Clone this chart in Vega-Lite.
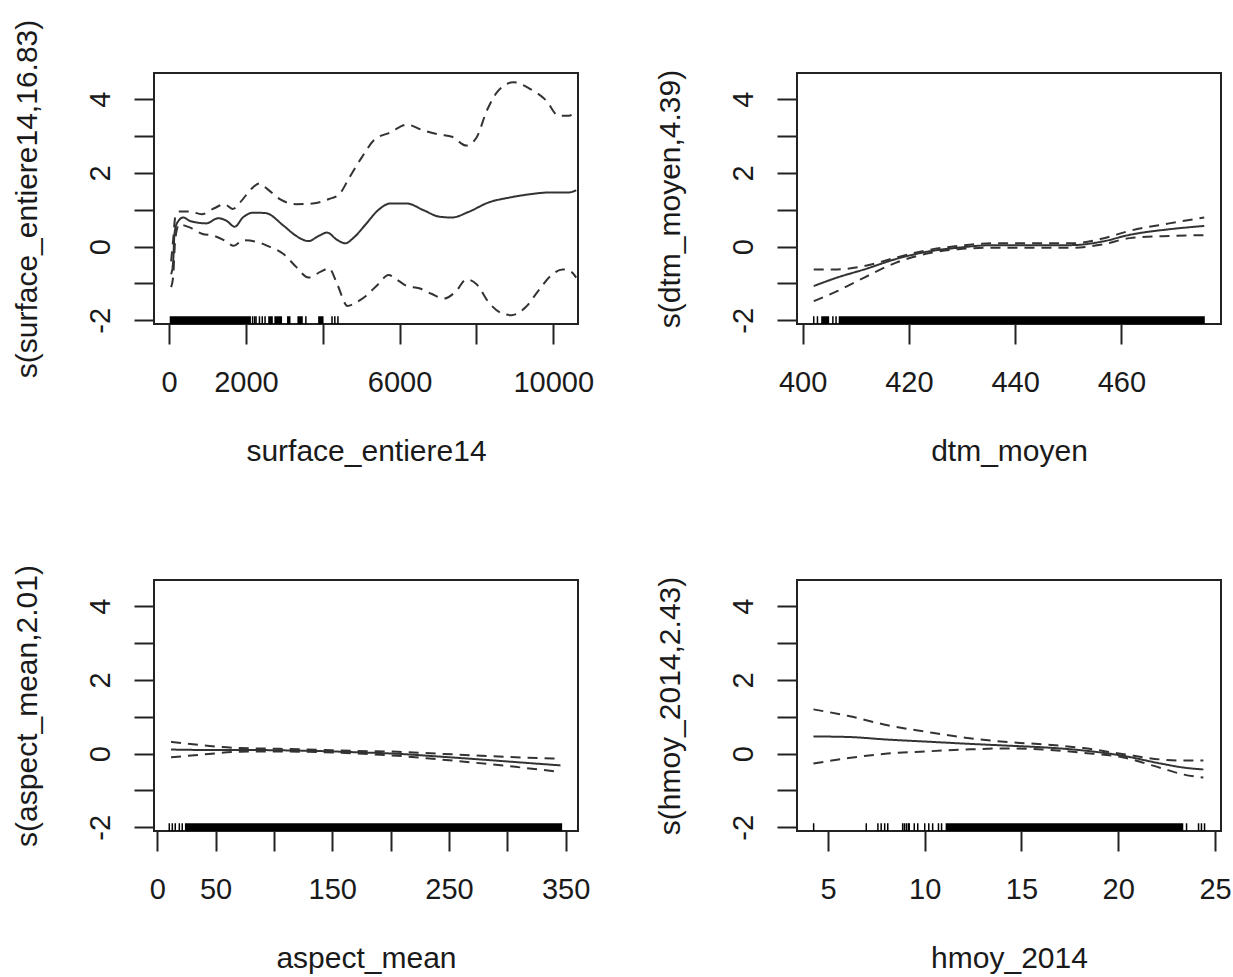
{
  "$schema": "https://vega.github.io/schema/vega-lite/v6.json",
  "background": "white",
  "padding": {"left": 10, "top": 18, "right": 0, "bottom": 0},
  "bounds": "flush",
  "columns": 2,
  "spacing": {"row": 256, "column": 219},
  "datasets": {
    "p1": [
      {"x":53,"y":-0.75,"s":"fit"},{"x":107,"y":-0.39,"s":"fit"},{"x":139,"y":0.34,"s":"fit"},{"x":213,"y":0.65,"s":"fit"},{"x":373,"y":0.79,"s":"fit"},{"x":534,"y":0.70,"s":"fit"},{"x":747,"y":0.65,"s":"fit"},{"x":961,"y":0.63,"s":"fit"},{"x":1281,"y":0.77,"s":"fit"},{"x":1494,"y":0.70,"s":"fit"},{"x":1708,"y":0.54,"s":"fit"},{"x":1921,"y":0.79,"s":"fit"},{"x":2188,"y":0.92,"s":"fit"},{"x":2508,"y":0.91,"s":"fit"},{"x":2988,"y":0.56,"s":"fit"},{"x":3308,"y":0.29,"s":"fit"},{"x":3629,"y":0.15,"s":"fit"},{"x":3895,"y":0.29,"s":"fit"},{"x":4109,"y":0.38,"s":"fit"},{"x":4376,"y":0.18,"s":"fit"},{"x":4589,"y":0.09,"s":"fit"},{"x":4803,"y":0.24,"s":"fit"},{"x":5123,"y":0.61,"s":"fit"},{"x":5443,"y":0.99,"s":"fit"},{"x":5763,"y":1.17,"s":"fit"},{"x":6190,"y":1.17,"s":"fit"},{"x":6617,"y":0.99,"s":"fit"},{"x":7044,"y":0.81,"s":"fit"},{"x":7364,"y":0.79,"s":"fit"},{"x":7791,"y":0.94,"s":"fit"},{"x":8324,"y":1.20,"s":"fit"},{"x":8858,"y":1.33,"s":"fit"},{"x":9392,"y":1.42,"s":"fit"},{"x":9925,"y":1.47,"s":"fit"},{"x":10405,"y":1.47,"s":"fit"},{"x":10598,"y":1.53,"s":"fit"},
      {"x":53,"y":-0.4,"s":"upper"},{"x":107,"y":0.2,"s":"upper"},{"x":160,"y":0.8,"s":"upper"},{"x":260,"y":0.95,"s":"upper"},{"x":534,"y":0.95,"s":"upper"},{"x":854,"y":0.88,"s":"upper"},{"x":1174,"y":1.04,"s":"upper"},{"x":1441,"y":1.15,"s":"upper"},{"x":1654,"y":1.02,"s":"upper"},{"x":1921,"y":1.29,"s":"upper"},{"x":2135,"y":1.56,"s":"upper"},{"x":2348,"y":1.71,"s":"upper"},{"x":2561,"y":1.56,"s":"upper"},{"x":2882,"y":1.29,"s":"upper"},{"x":3308,"y":1.15,"s":"upper"},{"x":3735,"y":1.17,"s":"upper"},{"x":4162,"y":1.29,"s":"upper"},{"x":4429,"y":1.42,"s":"upper"},{"x":4696,"y":1.88,"s":"upper"},{"x":5016,"y":2.42,"s":"upper"},{"x":5336,"y":2.89,"s":"upper"},{"x":5763,"y":3.10,"s":"upper"},{"x":6190,"y":3.31,"s":"upper"},{"x":6617,"y":3.15,"s":"upper"},{"x":7044,"y":3.04,"s":"upper"},{"x":7364,"y":2.98,"s":"upper"},{"x":7737,"y":2.74,"s":"upper"},{"x":8004,"y":2.96,"s":"upper"},{"x":8271,"y":3.69,"s":"upper"},{"x":8538,"y":4.19,"s":"upper"},{"x":8965,"y":4.46,"s":"upper"},{"x":9392,"y":4.28,"s":"upper"},{"x":9819,"y":3.96,"s":"upper"},{"x":10139,"y":3.55,"s":"upper"},{"x":10405,"y":3.55,"s":"upper"},{"x":10598,"y":3.69,"s":"upper"},
      {"x":53,"y":-1.1,"s":"lower"},{"x":107,"y":-0.8,"s":"lower"},{"x":160,"y":0.2,"s":"lower"},{"x":260,"y":0.6,"s":"lower"},{"x":534,"y":0.52,"s":"lower"},{"x":854,"y":0.35,"s":"lower"},{"x":1174,"y":0.29,"s":"lower"},{"x":1441,"y":0.17,"s":"lower"},{"x":1686,"y":0.02,"s":"lower"},{"x":1921,"y":0.17,"s":"lower"},{"x":2241,"y":0.14,"s":"lower"},{"x":2561,"y":0.02,"s":"lower"},{"x":2988,"y":-0.21,"s":"lower"},{"x":3308,"y":-0.55,"s":"lower"},{"x":3629,"y":-0.84,"s":"lower"},{"x":3949,"y":-0.68,"s":"lower"},{"x":4162,"y":-0.59,"s":"lower"},{"x":4376,"y":-1.02,"s":"lower"},{"x":4643,"y":-1.61,"s":"lower"},{"x":4856,"y":-1.52,"s":"lower"},{"x":5123,"y":-1.34,"s":"lower"},{"x":5443,"y":-1.02,"s":"lower"},{"x":5710,"y":-0.77,"s":"lower"},{"x":5976,"y":-0.93,"s":"lower"},{"x":6190,"y":-1.07,"s":"lower"},{"x":6510,"y":-1.13,"s":"lower"},{"x":6830,"y":-1.28,"s":"lower"},{"x":7150,"y":-1.41,"s":"lower"},{"x":7471,"y":-1.21,"s":"lower"},{"x":7737,"y":-0.89,"s":"lower"},{"x":8004,"y":-1.02,"s":"lower"},{"x":8324,"y":-1.52,"s":"lower"},{"x":8644,"y":-1.80,"s":"lower"},{"x":8911,"y":-1.86,"s":"lower"},{"x":9285,"y":-1.64,"s":"lower"},{"x":9605,"y":-1.21,"s":"lower"},{"x":9925,"y":-0.80,"s":"lower"},{"x":10245,"y":-0.62,"s":"lower"},{"x":10459,"y":-0.68,"s":"lower"},{"x":10598,"y":-0.84,"s":"lower"}
    ],
    "p1band": [{"from":16,"to":2130},{"from":2580,"to":2700},{"from":2740,"to":2940},{"from":3070,"to":3160},{"from":3340,"to":3480},{"from":3880,"to":4020}],
    "p1rug": [{"v":2174},{"v":2228},{"v":2263},{"v":2352},{"v":2425},{"v":2498},{"v":3560},{"v":4241},{"v":4314},{"v":4395}],
    "p2": [
      {"x":402.1,"y":-1.07,"s":"fit"},{"x":406.5,"y":-0.84,"s":"fit"},{"x":411.6,"y":-0.62,"s":"fit"},{"x":417.5,"y":-0.34,"s":"fit"},{"x":423.4,"y":-0.14,"s":"fit"},{"x":429.3,"y":-0.03,"s":"fit"},{"x":435.9,"y":0.04,"s":"fit"},{"x":443.2,"y":0.04,"s":"fit"},{"x":450.6,"y":0.04,"s":"fit"},{"x":456.5,"y":0.14,"s":"fit"},{"x":461.6,"y":0.32,"s":"fit"},{"x":469.0,"y":0.47,"s":"fit"},{"x":475.6,"y":0.56,"s":"fit"},
      {"x":402.1,"y":-0.62,"s":"upper"},{"x":406.5,"y":-0.62,"s":"upper"},{"x":411.6,"y":-0.53,"s":"upper"},{"x":417.5,"y":-0.30,"s":"upper"},{"x":423.4,"y":-0.10,"s":"upper"},{"x":429.3,"y":0.02,"s":"upper"},{"x":435.9,"y":0.09,"s":"upper"},{"x":443.2,"y":0.09,"s":"upper"},{"x":450.6,"y":0.09,"s":"upper"},{"x":456.5,"y":0.22,"s":"upper"},{"x":461.6,"y":0.43,"s":"upper"},{"x":469.0,"y":0.63,"s":"upper"},{"x":475.6,"y":0.79,"s":"upper"},
      {"x":402.1,"y":-1.48,"s":"lower"},{"x":406.5,"y":-1.21,"s":"lower"},{"x":411.6,"y":-0.84,"s":"lower"},{"x":417.5,"y":-0.44,"s":"lower"},{"x":423.4,"y":-0.19,"s":"lower"},{"x":429.3,"y":-0.07,"s":"lower"},{"x":435.9,"y":-0.03,"s":"lower"},{"x":443.2,"y":-0.03,"s":"lower"},{"x":450.6,"y":-0.03,"s":"lower"},{"x":456.5,"y":0.06,"s":"lower"},{"x":461.6,"y":0.23,"s":"lower"},{"x":469.0,"y":0.29,"s":"lower"},{"x":475.6,"y":0.31,"s":"lower"}
    ],
    "p2band": [{"from":403.5,"to":405.0},{"from":406.8,"to":475.7}],
    "p2rug": [{"v":402.1},{"v":402.8},{"v":405.7},{"v":406.3}],
    "p3": [
      {"x":11.8,"y":0.11,"s":"fit"},{"x":37,"y":0.10,"s":"fit"},{"x":71,"y":0.10,"s":"fit"},{"x":104.5,"y":0.09,"s":"fit"},{"x":138,"y":0.07,"s":"fit"},{"x":172,"y":0.035,"s":"fit"},{"x":206,"y":-0.005,"s":"fit"},{"x":239,"y":-0.075,"s":"fit"},{"x":273,"y":-0.15,"s":"fit"},{"x":307,"y":-0.23,"s":"fit"},{"x":345.6,"y":-0.32,"s":"fit"},
      {"x":11.8,"y":0.32,"s":"upper"},{"x":37,"y":0.23,"s":"upper"},{"x":71,"y":0.15,"s":"upper"},{"x":104.5,"y":0.13,"s":"upper"},{"x":138,"y":0.10,"s":"upper"},{"x":172,"y":0.07,"s":"upper"},{"x":206,"y":0.05,"s":"upper"},{"x":239,"y":0.0,"s":"upper"},{"x":273,"y":-0.05,"s":"upper"},{"x":307,"y":-0.10,"s":"upper"},{"x":345.6,"y":-0.14,"s":"upper"},
      {"x":11.8,"y":-0.10,"s":"lower"},{"x":37,"y":-0.03,"s":"lower"},{"x":71,"y":0.05,"s":"lower"},{"x":104.5,"y":0.06,"s":"lower"},{"x":138,"y":0.04,"s":"lower"},{"x":172,"y":0.0,"s":"lower"},{"x":206,"y":-0.06,"s":"lower"},{"x":239,"y":-0.15,"s":"lower"},{"x":273,"y":-0.25,"s":"lower"},{"x":307,"y":-0.36,"s":"lower"},{"x":345.6,"y":-0.50,"s":"lower"}
    ],
    "p3band": [{"from":23.7,"to":347}],
    "p3rug": [{"v":10.3},{"v":12.9},{"v":15.4},{"v":18.9},{"v":21.4}],
    "p4": [
      {"x":4.25,"y":0.465,"s":"fit"},{"x":6.07,"y":0.45,"s":"fit"},{"x":8.08,"y":0.38,"s":"fit"},{"x":10.1,"y":0.325,"s":"fit"},{"x":12.1,"y":0.27,"s":"fit"},{"x":14.1,"y":0.22,"s":"fit"},{"x":16.1,"y":0.17,"s":"fit"},{"x":18.2,"y":0.085,"s":"fit"},{"x":20.2,"y":-0.055,"s":"fit"},{"x":22.2,"y":-0.27,"s":"fit"},{"x":23.4,"y":-0.38,"s":"fit"},{"x":24.4,"y":-0.43,"s":"fit"},
      {"x":4.25,"y":1.20,"s":"upper"},{"x":6.07,"y":1.02,"s":"upper"},{"x":8.08,"y":0.77,"s":"upper"},{"x":10.1,"y":0.59,"s":"upper"},{"x":12.1,"y":0.43,"s":"upper"},{"x":14.1,"y":0.32,"s":"upper"},{"x":16.1,"y":0.25,"s":"upper"},{"x":18.2,"y":0.15,"s":"upper"},{"x":20.2,"y":-0.01,"s":"upper"},{"x":22.2,"y":-0.16,"s":"upper"},{"x":23.4,"y":-0.19,"s":"upper"},{"x":24.4,"y":-0.19,"s":"upper"},
      {"x":4.25,"y":-0.27,"s":"lower"},{"x":6.07,"y":-0.12,"s":"lower"},{"x":8.08,"y":0.0,"s":"lower"},{"x":10.1,"y":0.06,"s":"lower"},{"x":12.1,"y":0.11,"s":"lower"},{"x":14.1,"y":0.14,"s":"lower"},{"x":16.1,"y":0.11,"s":"lower"},{"x":18.2,"y":0.02,"s":"lower"},{"x":20.2,"y":-0.10,"s":"lower"},{"x":22.2,"y":-0.39,"s":"lower"},{"x":23.4,"y":-0.57,"s":"lower"},{"x":24.4,"y":-0.65,"s":"lower"}
    ],
    "p4band": [{"from":11.08,"to":23.36}],
    "p4rug": [{"v":4.26},{"v":6.98},{"v":7.58},{"v":7.75},{"v":7.93},{"v":8.09},{"v":8.86},{"v":8.95},{"v":9.05},{"v":9.15},{"v":9.2},{"v":9.46},{"v":9.64},{"v":10.0},{"v":10.21},{"v":10.41},{"v":10.71},{"v":10.87},{"v":23.53},{"v":24.15},{"v":24.3},{"v":24.46}]
  },
  "concat": [
    {
      "width": 424, "height": 251,
      "layer": [
        {"data": {"name": "p1band"}, "mark": {"type": "rect", "color": "black"},
         "encoding": {
           "x": {"field": "from", "type": "quantitative", "title": "surface_entiere14", "scale": {"domain": [-393, 10644], "nice": false, "zero": false}, "axis": {"values": [0,2000,4000,6000,8000,10000], "labelExpr": "datum.value === 4000 || datum.value === 8000 ? '' : '' + datum.value"}},
           "x2": {"field": "to"},
           "y": {"datum": -2.1, "type": "quantitative", "title": "s(surface_entiere14,16.83)", "scale": {"domain": [-2.1, 4.71], "nice": false, "zero": false}, "axis": {"values": [-2,-1,0,1,2,3,4], "labelExpr": "datum.value % 2 === 0 ? '' + datum.value : ''"}},
           "y2": {"datum": -1.89}
         }},
        {"data": {"name": "p1rug"}, "mark": {"type": "rule", "color": "black", "strokeWidth": 1.5},
         "encoding": {
           "x": {"field": "v", "type": "quantitative", "title": "surface_entiere14"},
           "y": {"datum": -2.1, "type": "quantitative", "title": "s(surface_entiere14,16.83)"},
           "y2": {"datum": -1.89}
         }},
        {"data": {"name": "p1"}, "mark": {"type": "line", "color": "#333", "strokeWidth": 2, "interpolate": "monotone"},
         "encoding": {
           "x": {"field": "x", "type": "quantitative", "title": "surface_entiere14"},
           "y": {"field": "y", "type": "quantitative", "title": "s(surface_entiere14,16.83)"},
           "detail": {"field": "s", "type": "nominal"},
           "strokeDash": {"field": "s", "type": "nominal", "scale": {"domain": ["fit", "lower", "upper"], "range": [[1, 0], [10, 7], [10, 7]]}, "legend": null}
         }}
      ]
    },
    {
      "width": 424, "height": 251,
      "layer": [
        {"data": {"name": "p2band"}, "mark": {"type": "rect", "color": "black"},
         "encoding": {
           "x": {"field": "from", "type": "quantitative", "title": "dtm_moyen", "scale": {"domain": [398.95, 478.75], "nice": false, "zero": false}, "axis": {"values": [400,420,440,460], "labelExpr": "'' + datum.value"}},
           "x2": {"field": "to"},
           "y": {"datum": -2.1, "type": "quantitative", "title": "s(dtm_moyen,4.39)", "scale": {"domain": [-2.1, 4.71], "nice": false, "zero": false}, "axis": {"values": [-2,-1,0,1,2,3,4], "labelExpr": "datum.value % 2 === 0 ? '' + datum.value : ''"}},
           "y2": {"datum": -1.89}
         }},
        {"data": {"name": "p2rug"}, "mark": {"type": "rule", "color": "black", "strokeWidth": 1.5},
         "encoding": {
           "x": {"field": "v", "type": "quantitative", "title": "dtm_moyen"},
           "y": {"datum": -2.1, "type": "quantitative", "title": "s(dtm_moyen,4.39)"},
           "y2": {"datum": -1.89}
         }},
        {"data": {"name": "p2"}, "mark": {"type": "line", "color": "#333", "strokeWidth": 2, "interpolate": "monotone"},
         "encoding": {
           "x": {"field": "x", "type": "quantitative", "title": "dtm_moyen"},
           "y": {"field": "y", "type": "quantitative", "title": "s(dtm_moyen,4.39)"},
           "detail": {"field": "s", "type": "nominal"},
           "strokeDash": {"field": "s", "type": "nominal", "scale": {"domain": ["fit", "lower", "upper"], "range": [[1, 0], [10, 7], [10, 7]]}, "legend": null}
         }}
      ]
    },
    {
      "width": 424, "height": 251,
      "layer": [
        {"data": {"name": "p3band"}, "mark": {"type": "rect", "color": "black"},
         "encoding": {
           "x": {"field": "from", "type": "quantitative", "title": "aspect_mean", "scale": {"domain": [-2.8, 360.6], "nice": false, "zero": false}, "axis": {"values": [0,50,100,150,200,250,300,350], "labelExpr": "datum.value === 100 || datum.value === 200 || datum.value === 300 ? '' : '' + datum.value"}},
           "x2": {"field": "to"},
           "y": {"datum": -2.1, "type": "quantitative", "title": "s(aspect_mean,2.01)", "scale": {"domain": [-2.1, 4.71], "nice": false, "zero": false}, "axis": {"values": [-2,-1,0,1,2,3,4], "labelExpr": "datum.value % 2 === 0 ? '' + datum.value : ''"}},
           "y2": {"datum": -1.89}
         }},
        {"data": {"name": "p3rug"}, "mark": {"type": "rule", "color": "black", "strokeWidth": 1.5},
         "encoding": {
           "x": {"field": "v", "type": "quantitative", "title": "aspect_mean"},
           "y": {"datum": -2.1, "type": "quantitative", "title": "s(aspect_mean,2.01)"},
           "y2": {"datum": -1.89}
         }},
        {"data": {"name": "p3"}, "mark": {"type": "line", "color": "#333", "strokeWidth": 2, "interpolate": "monotone"},
         "encoding": {
           "x": {"field": "x", "type": "quantitative", "title": "aspect_mean"},
           "y": {"field": "y", "type": "quantitative", "title": "s(aspect_mean,2.01)"},
           "detail": {"field": "s", "type": "nominal"},
           "strokeDash": {"field": "s", "type": "nominal", "scale": {"domain": ["fit", "lower", "upper"], "range": [[1, 0], [10, 7], [10, 7]]}, "legend": null}
         }}
      ]
    },
    {
      "width": 424, "height": 251,
      "layer": [
        {"data": {"name": "p4band"}, "mark": {"type": "rect", "color": "black"},
         "encoding": {
           "x": {"field": "from", "type": "quantitative", "title": "hmoy_2014", "scale": {"domain": [3.4, 25.31], "nice": false, "zero": false}, "axis": {"values": [5,10,15,20,25], "labelExpr": "'' + datum.value"}},
           "x2": {"field": "to"},
           "y": {"datum": -2.1, "type": "quantitative", "title": "s(hmoy_2014,2.43)", "scale": {"domain": [-2.1, 4.71], "nice": false, "zero": false}, "axis": {"values": [-2,-1,0,1,2,3,4], "labelExpr": "datum.value % 2 === 0 ? '' + datum.value : ''"}},
           "y2": {"datum": -1.89}
         }},
        {"data": {"name": "p4rug"}, "mark": {"type": "rule", "color": "black", "strokeWidth": 1.5},
         "encoding": {
           "x": {"field": "v", "type": "quantitative", "title": "hmoy_2014"},
           "y": {"datum": -2.1, "type": "quantitative", "title": "s(hmoy_2014,2.43)"},
           "y2": {"datum": -1.89}
         }},
        {"data": {"name": "p4"}, "mark": {"type": "line", "color": "#333", "strokeWidth": 2, "interpolate": "monotone"},
         "encoding": {
           "x": {"field": "x", "type": "quantitative", "title": "hmoy_2014"},
           "y": {"field": "y", "type": "quantitative", "title": "s(hmoy_2014,2.43)"},
           "detail": {"field": "s", "type": "nominal"},
           "strokeDash": {"field": "s", "type": "nominal", "scale": {"domain": ["fit", "lower", "upper"], "range": [[1, 0], [10, 7], [10, 7]]}, "legend": null}
         }}
      ]
    }
  ],
  "config": {
    "view": {"stroke": "#222", "strokeWidth": 2},
    "font": "Liberation Sans",
    "axis": {
      "domain": false, "grid": false, "ticks": true, "tickColor": "#222", "tickWidth": 2, "tickSize": 20,
      "labelFont": "Liberation Sans", "labelFontSize": 29, "labelColor": "#1a1a1a",
      "titleFont": "Liberation Sans", "titleFontSize": 30, "titleFontWeight": "normal", "titleColor": "#1a1a1a",
      "labelOverlap": false, "labelFlush": false, "labelBound": false
    },
    "axisX": {"labelPadding": 47, "labelBaseline": "alphabetic", "labelAngle": 0, "labelAlign": "center", "titleBaseline": "alphabetic", "titleY": 136, "titleX": 212, "titleAlign": "center"},
    "axisY": {"labelPadding": 25, "labelBaseline": "alphabetic", "labelAngle": 270, "labelAlign": "center", "titleAngle": 270, "titleBaseline": "alphabetic", "titleX": -118, "titleY": 125.5, "titleAlign": "center"}
  }
}
